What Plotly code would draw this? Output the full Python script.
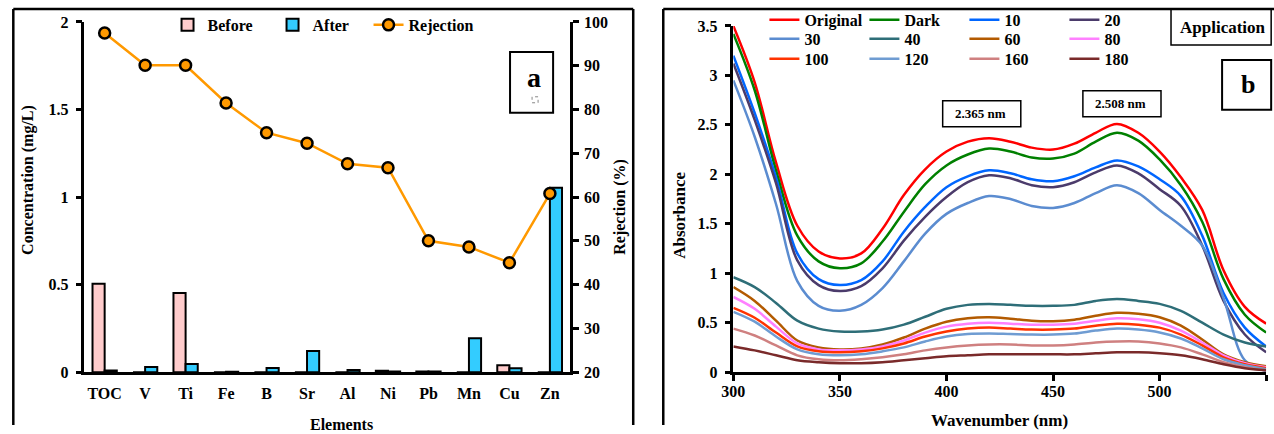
import plotly.graph_objects as go

W, H = 1274, 434

# ---------------- Panel a data ----------------
elements = ["TOC", "V", "Ti", "Fe", "B", "Sr", "Al", "Ni", "Pb", "Mn", "Cu", "Zn"]
before = [0.505, 0.0, 0.452, 0.0, 0.0, 0.0, 0.0, 0.008, 0.004, 0.0, 0.040, 0.0]
after = [0.010, 0.030, 0.046, 0.002, 0.024, 0.120, 0.012, 0.004, 0.003, 0.194, 0.022, 1.053]
rejection = [97.5, 90.1, 90.1, 81.5, 74.7, 72.3, 67.6, 66.7, 50.0, 48.6, 45.0, 60.8]

# ---------------- Panel b data ----------------
wavelength = [300, 310, 320, 330, 340, 350, 360, 370, 380, 390, 400, 410, 420,
              430, 440, 450, 460, 470, 480, 490, 500, 510, 520, 530, 540, 550]
abs_original = [3.50, 2.93, 2.12, 1.48, 1.22, 1.15, 1.20, 1.45, 1.79, 2.05, 2.23, 2.33, 2.365,
                2.33, 2.27, 2.25, 2.31, 2.42, 2.51, 2.42, 2.23, 1.97, 1.64, 1.03, 0.66, 0.49]
abs_dark = [3.42, 2.85, 2.04, 1.38, 1.12, 1.05, 1.10, 1.32, 1.62, 1.90, 2.09, 2.20, 2.26,
            2.23, 2.17, 2.16, 2.21, 2.33, 2.42, 2.34, 2.15, 1.89, 1.52, 0.94, 0.58, 0.40]
abs_10 = [3.20, 2.62, 1.97, 1.20, 0.94, 0.88, 0.93, 1.12, 1.42, 1.67, 1.87, 1.98, 2.04,
          2.01, 1.95, 1.93, 1.98, 2.07, 2.14, 2.08, 1.95, 1.78, 1.38, 0.80, 0.45, 0.26]
abs_20 = [3.12, 2.55, 1.91, 1.13, 0.88, 0.82, 0.87, 1.05, 1.33, 1.57, 1.77, 1.92, 1.99,
          1.96, 1.89, 1.87, 1.92, 2.02, 2.09, 2.01, 1.85, 1.68, 1.28, 0.72, 0.38, 0.20]
abs_30 = [2.95, 2.38, 1.70, 0.92, 0.67, 0.62, 0.68, 0.85, 1.12, 1.40, 1.60, 1.71, 1.78,
          1.75, 1.68, 1.66, 1.71, 1.81, 1.89, 1.81, 1.64, 1.48, 1.28, 0.75, 0.12, 0.01]
abs_40 = [0.96, 0.86, 0.70, 0.52, 0.44, 0.41, 0.41, 0.43, 0.48, 0.56, 0.64, 0.68, 0.69,
          0.68, 0.67, 0.67, 0.68, 0.72, 0.74, 0.72, 0.69, 0.62, 0.50, 0.38, 0.30, 0.26]
abs_60 = [0.86, 0.72, 0.52, 0.32, 0.25, 0.23, 0.24, 0.28, 0.35, 0.44, 0.51, 0.545, 0.555,
          0.54, 0.52, 0.515, 0.53, 0.57, 0.60, 0.59, 0.555, 0.47, 0.33, 0.18, 0.10, 0.06]
abs_80 = [0.76, 0.64, 0.46, 0.29, 0.23, 0.22, 0.23, 0.26, 0.32, 0.40, 0.46, 0.49, 0.50,
          0.49, 0.48, 0.48, 0.49, 0.52, 0.545, 0.535, 0.50, 0.42, 0.30, 0.17, 0.09, 0.05]
abs_100 = [0.65, 0.55, 0.40, 0.26, 0.21, 0.20, 0.21, 0.24, 0.29, 0.36, 0.41, 0.44, 0.45,
           0.44, 0.43, 0.43, 0.44, 0.47, 0.49, 0.48, 0.45, 0.38, 0.27, 0.15, 0.08, 0.04]
abs_120 = [0.61, 0.51, 0.36, 0.23, 0.18, 0.17, 0.18, 0.21, 0.25, 0.31, 0.36, 0.385, 0.39,
           0.385, 0.38, 0.38, 0.39, 0.42, 0.44, 0.43, 0.40, 0.34, 0.24, 0.13, 0.07, 0.03]
abs_160 = [0.44, 0.37, 0.27, 0.17, 0.13, 0.12, 0.13, 0.15, 0.18, 0.22, 0.25, 0.27, 0.28,
           0.28, 0.27, 0.27, 0.28, 0.30, 0.31, 0.31, 0.29, 0.25, 0.18, 0.10, 0.05, 0.02]
abs_180 = [0.26, 0.22, 0.17, 0.12, 0.10, 0.09, 0.09, 0.10, 0.12, 0.14, 0.16, 0.17, 0.18,
           0.18, 0.18, 0.18, 0.18, 0.19, 0.20, 0.20, 0.19, 0.17, 0.13, 0.08, 0.04, 0.02]

series_names = ["Original", "Dark", "10", "20", "30", "40", "60", "80", "100", "120", "160", "180"]
series_values = [abs_original, abs_dark, abs_10, abs_20, abs_30, abs_40, abs_60, abs_80,
                 abs_100, abs_120, abs_160, abs_180]
series_colors = ["#FF0000", "#008000", "#0066FF", "#4B3B6B", "#5B8CD0", "#2E6E78",
                 "#B35A00", "#FF80FF", "#FF3300", "#6F9CD2", "#CF8080", "#7A2A2A"]

FONT = "Liberation Serif"

# Target-pixel -> paper-fraction mapping, calibrated on how the page is photographed
SX, CX = 1.011, -9.8
OY, EH = 8, 418


def fx(px):
    return min(max((SX * px + CX) / W, 0.0), 1.0)


def fy(py):
    return min(max(1 - (py - OY) / EH, 0.0), 1.0)


fig = go.Figure()

bar_line = dict(color="black", width=2)
fig.add_trace(go.Bar(x=elements, y=before, name="Before", legendwidth=60,
                     marker=dict(color="#FFCCCC", line=bar_line), xaxis="x", yaxis="y"))
fig.add_trace(go.Bar(x=elements, y=after, name="After", legendwidth=51,
                     marker=dict(color="#33CCFF", line=bar_line), xaxis="x", yaxis="y"))
fig.add_trace(go.Scatter(x=elements, y=rejection, name="Rejection", mode="lines+markers",
                         line=dict(color="#FF9900", width=2.5),
                         marker=dict(size=11, color="#FF9900", line=dict(color="black", width=2.5)),
                         xaxis="x", yaxis="y2", cliponaxis=False))

for i, (nm, vals, col) in enumerate(zip(series_names, series_values, series_colors)):
    fig.add_trace(go.Scatter(x=wavelength, y=vals, name=nm, mode="lines",
                             line=dict(color=col, width=2.5, shape="spline", smoothing=1.0),
                             xaxis="x2", yaxis="y3", legend="legend%d" % (2 + i // 4)))

tickfont = dict(family=FONT, size=16, color="black", weight="bold")
axis_common = dict(showline=True, linecolor="black", linewidth=2.5, showgrid=False,
                   zeroline=False, tickfont=tickfont, tickcolor="black", tickwidth=2.5)

legend_font = dict(family=FONT, size=16, color="black", weight="bold")
legend_rows = {}
for r, py in enumerate([20, 39, 59]):
    legend_rows["legend%d" % (r + 2)] = dict(
        orientation="h", x=fx(761), y=fy(py), xanchor="left", yanchor="middle",
        font=legend_font, bgcolor="rgba(0,0,0,0)", entrywidth=55, entrywidthmode="pixels",
        itemclick=False, itemdoubleclick=False)

shapes = []
blk = dict(color="black", width=2.5)


def hline(x0, x1, y, line):
    shapes.append(dict(type="line", xref="paper", yref="paper", x0=fx(x0), x1=fx(x1),
                       y0=fy(y), y1=fy(y), line=line))


def vline(x, y0, y1, line):
    shapes.append(dict(type="line", xref="paper", yref="paper", x0=fx(x), x1=fx(x),
                       y0=fy(y0), y1=fy(y1), line=line))


def box(x0, x1, y0, y1, line):
    shapes.append(dict(type="rect", xref="paper", yref="paper", x0=fx(x0), x1=fx(x1),
                       y0=fy(y1), y1=fy(y0), line=line))


# Panel frames (open where the source image is cut)
vline(11, 9, 440, blk)
vline(630, 9, 440, blk)
hline(11, 630, 9, blk)
vline(660, 9, 440, blk)
hline(660, 1290, 9, blk)
# label boxes
box(507, 550, 52, 113, dict(color="black", width=2))
box(529, 535, 97, 103, dict(color="#888888", width=1, dash="dot"))
box(939, 1017, 101, 127, dict(color="black", width=1.5))
box(1079, 1157, 91, 117, dict(color="black", width=1.5))
box(1167, 1267, 9, 45, dict(color="black", width=1.5))
box(1218, 1267, 60, 110, dict(color="black", width=2))


def ann(text, px, py, size=16, angle=0):
    return dict(text=text, x=fx(px), y=fy(py), xref="paper", yref="paper",
                xanchor="center", yanchor="middle", showarrow=False, textangle=angle,
                font=dict(family=FONT, size=size, color="black", weight="bold"))


annotations = [
    ann("Concentration (mg/L)", 25, 180, 16, -90),
    ann("Rejection (%)", 616, 207, 16, -90),
    ann("Elements", 339, 425, 16),
    ann("Absorbance", 676, 216, 17, -90),
    ann("Wavenumber (nm)", 996, 421, 17),
    ann("a", 531, 78, 28),
    ann("2.365 nm", 977, 114, 13),
    ann("2.508 nm", 1117, 104, 13),
    ann("Application", 1219, 28, 17),
    ann("b", 1244, 85, 26),
]

fig.update_layout(
    width=W, height=H, margin=dict(l=0, r=0, t=0, b=0),
    paper_bgcolor="white", plot_bgcolor="rgba(0,0,0,0)",
    barmode="group", bargap=0.4, bargroupgap=0,
    xaxis=dict(domain=[fx(82), fx(567)], anchor="y", type="category", range=[-0.5, 11.5],
               ticks="", ticklabelstandoff=5, **axis_common),
    yaxis=dict(domain=[fy(373), fy(22)], anchor="x", range=[0, 2], dtick=0.5,
               ticks="outside", ticklen=6, ticklabelstandoff=4, **axis_common),
    yaxis2=dict(overlaying="y", side="right", anchor="x", range=[20, 100], dtick=10,
                ticks="outside", ticklen=6, ticklabelstandoff=2, **axis_common),
    xaxis2=dict(domain=[fx(730), fx(1262)], anchor="y3", range=[300, 550], dtick=50,
                ticks="outside", ticklen=6, ticklabelstandoff=-3, **axis_common),
    yaxis3=dict(domain=[fy(373), fy(26)], anchor="x2", range=[0, 3.5], dtick=0.5,
                ticks="outside", ticklen=6, ticklabelstandoff=4, **axis_common),
    legend=dict(orientation="h", x=fx(165), y=fy(25), xanchor="left", yanchor="middle",
                font=legend_font, bgcolor="rgba(0,0,0,0)", itemclick=False,
                itemdoubleclick=False),
    shapes=shapes,
    annotations=annotations,
    **legend_rows,
)

fig.write_html("out.html")
